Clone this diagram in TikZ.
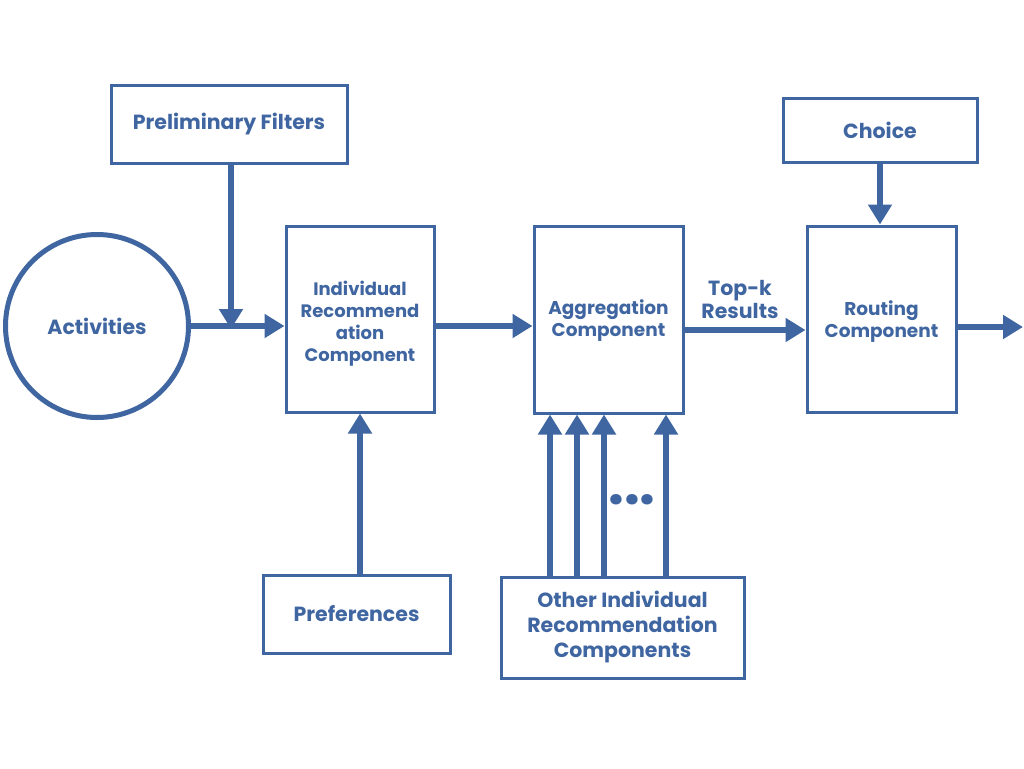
\documentclass[tikz,border=0pt]{standalone}
\usepackage{fontspec}
\setmainfont{Poppins}
\usetikzlibrary{arrows.meta}
\definecolor{dblue}{RGB}{64,102,162}
\tikzset{
  box/.style={draw=dblue, line width=3pt, inner sep=0pt, text=dblue, font=\bfseries, align=center},
  lbl/.style={text=dblue, font=\bfseries, align=center, inner sep=0pt},
  conn/.style={draw=dblue, line width=6pt, -{Triangle[width=23pt,length=20pt]}},
}
\begin{document}
\begin{tikzpicture}[x=1pt,y=-1pt]
\useasboundingbox[fill=white] (0,0) rectangle (1024,768);
% nodes
\node[box, minimum width=236pt, minimum height=78pt, font=\bfseries\fontsize{20.5}{24}\selectfont] (pf) at (229,124) {Preliminary Filters};
\node[draw=dblue, line width=5pt, circle, minimum size=183pt, text=dblue, font=\bfseries\fontsize{20.5}{24}\selectfont] (act) at (97,326) {Activities};
\node[box, minimum width=148pt, minimum height=186pt] (ir) at (360,319) {};
\node[lbl, font=\bfseries\fontsize{18}{22}\selectfont] (irt) at (360,324) {Individual\\Recommend\\ation\\Component};
\node[box, minimum width=149pt, minimum height=187pt] (agg) at (608.5,319.5) {};
\node[lbl, font=\bfseries\fontsize{18.5}{22}\selectfont] (aggt) at (608.5,321) {Aggregation\\Component};
\node[box, minimum width=149pt, minimum height=186pt] (rt) at (881.5,319) {};
\node[lbl, font=\bfseries\fontsize{18.5}{22}\selectfont] (rtt) at (881.5,322) {Routing\\Component};
\node[box, minimum width=187pt, minimum height=78pt, font=\bfseries\fontsize{20.5}{24}\selectfont] (pref) at (356.5,614) {Preferences};
\node[box, minimum width=194pt, minimum height=64pt, font=\bfseries\fontsize{20.5}{24}\selectfont] (ch) at (880,130) {Choice};
\node[box, minimum width=243pt, minimum height=101pt, font=\bfseries\fontsize{20.5}{25}\selectfont] (oth) at (622.5,627.5) {Other Individual\\Recommendation\\Components};
\node[lbl, font=\bfseries\fontsize{20.5}{23}\selectfont] (topk) at (740,299) {Top-k\\Results};
\node[lbl, font=\bfseries\fontsize{56}{56}\selectfont] (dots) at (632,500) {...};
\coordinate (j) at (231,326);
\coordinate (out) at (1023,327);
% connectors
\draw[conn] (act.east |- 0,326) -- (ir.west |- 0,326);
\draw[conn] (pf.south -| j) -- ([yshift=-3pt]j);
\draw[conn] (pref.north -| 360,0) -- (ir.south -| 360,0);
\draw[conn] (ir.east |- 0,326) -- (agg.west |- 0,326);
\draw[conn] (agg.east |- 0,330) -- (rt.west |- 0,330);
\draw[conn] (ch.south) -- (rt.north -| ch.south);
\draw[conn] (rt.east |- out) -- (out);
\foreach \x in {550,577,604,666}{
  \draw[conn] (oth.north -| \x,0) -- (agg.south -| \x,0);
}
\end{tikzpicture}
\end{document}
